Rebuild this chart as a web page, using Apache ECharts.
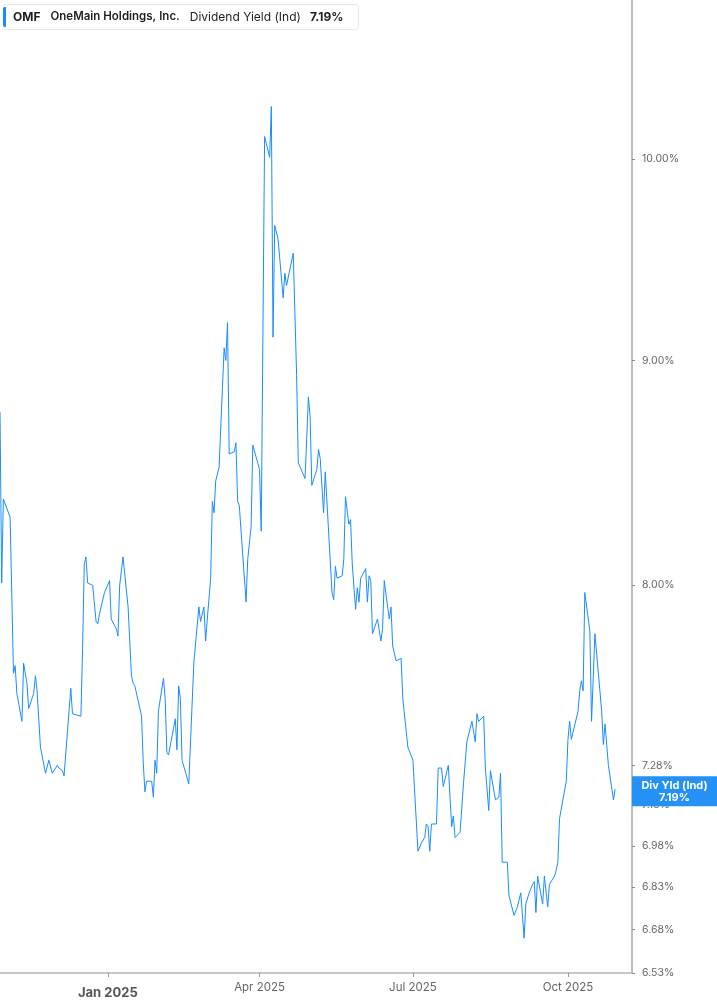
<!DOCTYPE html>
<html>
<head>
<meta charset="utf-8">
<script src="https://cdn.jsdelivr.net/npm/echarts@6/dist/echarts.min.js"></script>
<style>
  html, body { margin: 0; padding: 0; background: #fff; }
  #chart { width: 717px; height: 1005px; }
</style>
</head>
<body>
<div id="chart"></div>
<script>
// dividend yield (%)
const dates = [
  '2024-10-29', '2024-10-30', '2024-10-31', '2024-11-04', '2024-11-06', '2024-11-07', '2024-11-08',
  '2024-11-11', '2024-11-12', '2024-11-14', '2024-11-15', '2024-11-18', '2024-11-19', '2024-11-20',
  '2024-11-22', '2024-11-25', '2024-11-27', '2024-11-29', '2024-12-02', '2024-12-03', '2024-12-05',
  '2024-12-06', '2024-12-10', '2024-12-11', '2024-12-16', '2024-12-17', '2024-12-18', '2024-12-19',
  '2024-12-20', '2024-12-23', '2024-12-25', '2024-12-26', '2024-12-27', '2024-12-30', '2025-01-02',
  '2025-01-03', '2025-01-06', '2025-01-07', '2025-01-08', '2025-01-10', '2025-01-13', '2025-01-15',
  '2025-01-16', '2025-01-17', '2025-01-21', '2025-01-22', '2025-01-23', '2025-01-24', '2025-01-27',
  '2025-01-28', '2025-01-29', '2025-01-30', '2025-01-31', '2025-02-03', '2025-02-04', '2025-02-05',
  '2025-02-06', '2025-02-10', '2025-02-11', '2025-02-12', '2025-02-13', '2025-02-14', '2025-02-18',
  '2025-02-21', '2025-02-24', '2025-02-25', '2025-02-27', '2025-02-28', '2025-03-01', '2025-03-03',
  '2025-03-04', '2025-03-05', '2025-03-06', '2025-03-08', '2025-03-11', '2025-03-12', '2025-03-13',
  '2025-03-14', '2025-03-17', '2025-03-18', '2025-03-19', '2025-03-20', '2025-03-24', '2025-03-25',
  '2025-03-27', '2025-03-28', '2025-04-01', '2025-04-02', '2025-04-04', '2025-04-07', '2025-04-08',
  '2025-04-09', '2025-04-10', '2025-04-12', '2025-04-15', '2025-04-16', '2025-04-17', '2025-04-21',
  '2025-04-23', '2025-04-24', '2025-04-28', '2025-04-30', '2025-05-01', '2025-05-02', '2025-05-05',
  '2025-05-06', '2025-05-07', '2025-05-09', '2025-05-10', '2025-05-14', '2025-05-15', '2025-05-16',
  '2025-05-17', '2025-05-20', '2025-05-21', '2025-05-22', '2025-05-24', '2025-05-25', '2025-05-26',
  '2025-05-28', '2025-05-29', '2025-05-30', '2025-05-31', '2025-06-03', '2025-06-04', '2025-06-05',
  '2025-06-06', '2025-06-07', '2025-06-10', '2025-06-12', '2025-06-13', '2025-06-14', '2025-06-16',
  '2025-06-17', '2025-06-18', '2025-06-19', '2025-06-21', '2025-06-24', '2025-06-25', '2025-06-28',
  '2025-07-01', '2025-07-04', '2025-07-06', '2025-07-08', '2025-07-09', '2025-07-10', '2025-07-11',
  '2025-07-12', '2025-07-15', '2025-07-16', '2025-07-18', '2025-07-19', '2025-07-22', '2025-07-24',
  '2025-07-25', '2025-07-26', '2025-07-29', '2025-07-31', '2025-08-02', '2025-08-05', '2025-08-07',
  '2025-08-08', '2025-08-09', '2025-08-12', '2025-08-13', '2025-08-15', '2025-08-16', '2025-08-19',
  '2025-08-20', '2025-08-21', '2025-08-22', '2025-08-23', '2025-08-26', '2025-08-27', '2025-08-30',
  '2025-09-01', '2025-09-03', '2025-09-05', '2025-09-06', '2025-09-08', '2025-09-10', '2025-09-11',
  '2025-09-12', '2025-09-13', '2025-09-16', '2025-09-17', '2025-09-19', '2025-09-20', '2025-09-23',
  '2025-09-24', '2025-09-25', '2025-09-26', '2025-09-30', '2025-10-01', '2025-10-02', '2025-10-03',
  '2025-10-07', '2025-10-08', '2025-10-09', '2025-10-10', '2025-10-11', '2025-10-14', '2025-10-15',
  '2025-10-17', '2025-10-21', '2025-10-22', '2025-10-23', '2025-10-25', '2025-10-28', '2025-10-29'
];
const yields = [
  8.76, 8.01, 8.37, 8.29, 7.64, 7.67, 7.56,
  7.45, 7.68, 7.60, 7.50, 7.56, 7.63, 7.57,
  7.35, 7.25, 7.30, 7.25, 7.28, 7.27, 7.26,
  7.24, 7.58, 7.48, 7.47, 7.74, 8.09, 8.12,
  8.01, 8.00, 7.85, 7.84, 7.88, 7.97, 8.02,
  7.86, 7.82, 7.79, 8.00, 8.12, 7.91, 7.63,
  7.60, 7.59, 7.47, 7.29, 7.18, 7.22, 7.22,
  7.16, 7.30, 7.25, 7.49, 7.62, 7.54, 7.33,
  7.32, 7.46, 7.34, 7.59, 7.54, 7.30, 7.21,
  7.68, 7.91, 7.85, 7.91, 7.77, 7.86, 8.03,
  8.36, 8.31, 8.45, 8.51, 9.06, 9.00, 9.18,
  8.57, 8.58, 8.62, 8.36, 8.34, 7.93, 8.11,
  8.25, 8.61, 8.50, 8.23, 10.12, 10.01, 10.28,
  9.11, 9.66, 9.59, 9.30, 9.42, 9.36, 9.52,
  8.93, 8.53, 8.46, 8.83, 8.74, 8.43, 8.50,
  8.59, 8.55, 8.31, 8.49, 7.97, 7.94, 8.08,
  8.03, 8.04, 8.11, 8.38, 8.26, 8.28, 8.09,
  7.90, 7.99, 7.93, 8.03, 8.07, 7.93, 8.04,
  8.02, 7.80, 7.86, 7.77, 7.82, 8.02, 7.91,
  7.86, 7.91, 7.75, 7.69, 7.70, 7.54, 7.35,
  7.30, 6.96, 6.99, 7.01, 7.06, 7.05, 6.96,
  7.06, 7.06, 7.27, 7.27, 7.20, 7.28, 7.05,
  7.09, 7.01, 7.03, 7.21, 7.37, 7.45, 7.37,
  7.48, 7.45, 7.47, 7.27, 7.11, 7.26, 7.15,
  7.15, 7.16, 7.25, 6.92, 6.92, 6.80, 6.73,
  6.76, 6.81, 6.65, 6.77, 6.81, 6.84, 6.85,
  6.74, 6.87, 6.77, 6.87, 6.76, 6.84, 6.87,
  6.89, 6.92, 7.08, 7.22, 7.38, 7.45, 7.38,
  7.49, 7.57, 7.61, 7.57, 7.97, 7.81, 7.45,
  7.80, 7.49, 7.36, 7.44, 7.28, 7.15, 7.19
];
const yTicks = [10, 9, 8, 7.28, 7.13, 6.98, 6.83, 6.68, 6.53];
const yMin = 6.53;
const yMax = 10.87;
const xTicks = ['2025-01-01', '2025-04-01', '2025-07-01', '2025-10-01'];
const xMin = '2024-10-29';
const xMax = '2025-11-08';
const months = ['Jan', 'Feb', 'Mar', 'Apr', 'May', 'Jun', 'Jul', 'Aug', 'Sep', 'Oct', 'Nov', 'Dec'];

const BLUE = '#1a8cff';
const lastYield = yields[yields.length - 1];

function toTs(s) {
  const p = s.split('-');
  return new Date(+p[0], +p[1] - 1, +p[2]).getTime();
}

// the value axis is logarithmic in the picture, so plot ln(yield)
const seriesData = dates.map((d, i) => [toTs(d), Math.log(yields[i])]);
const yTickLn = yTicks.map((v) => Math.log(v));
const xTickTs = xTicks.map(toTs);

const chart = echarts.init(document.getElementById('chart'), null, { renderer: 'canvas' });

const option = {
  animation: false,
  textStyle: { fontFamily: 'Inter' },
  title: {
    left: 3,
    top: 4,
    padding: [3, 15, 3, 0],
    borderColor: '#e6e6e6',
    borderWidth: 1,
    borderRadius: 3,
    text: '{bar|}{t|OMF}{n|OneMain Holdings, Inc.}{d|Dividend Yield (Ind)}{v|' + lastYield.toFixed(2) + '%}',
    textStyle: {
      rich: {
        bar: { width: 3, height: 20, backgroundColor: BLUE, borderRadius: [2, 0, 0, 2] },
        t: { fontFamily: 'Inter', fontSize: 12, fontWeight: 700, color: '#1f1f1f', padding: [0, 10, 0, 7] },
        n: { fontFamily: 'Inter', fontSize: 11.5, fontWeight: 600, color: '#1f1f1f', padding: [0, 10, 0, 0] },
        d: { fontFamily: 'Inter', fontSize: 12, fontWeight: 400, color: '#1f1f1f', padding: [0, 9, 0, 0] },
        v: { fontFamily: 'Inter', fontSize: 12, fontWeight: 700, color: '#1f1f1f' },
      },
    },
  },
  grid: {
    left: 0,
    right: 85,
    top: 0,
    bottom: 32,
  },
  xAxis: {
    type: 'value',
    min: toTs(xMin),
    max: toTs(xMax),
    axisLine: { lineStyle: { color: '#b5b5b5', width: 1.5 } },
    axisTick: { show: true, length: 4, lineStyle: { color: '#999' }, customValues: xTickTs },
    splitLine: { show: false },
    axisLabel: {
      customValues: xTickTs,
      margin: 9,
      formatter(value) {
        const dt = new Date(value);
        const str = months[dt.getMonth()] + ' ' + dt.getFullYear();
        return dt.getMonth() === 0 ? '{b|' + str + '}' : '{n|' + str + '}';
      },
      rich: {
        b: { fontFamily: 'Inter', fontSize: 13, fontWeight: 700, color: '#555', padding: [5, 0, 0, 0] },
        n: { fontFamily: 'Inter', fontSize: 11.5, color: '#666' },
      },
    },
  },
  yAxis: {
    type: 'value',
    position: 'right',
    min: Math.log(yMin),
    max: Math.log(yMax),
    axisLine: { show: true, lineStyle: { color: '#a8a8a8', width: 1.5 } },
    axisTick: { show: true, length: 3, lineStyle: { color: '#888' }, customValues: yTickLn },
    splitLine: { show: false },
    axisLabel: {
      customValues: yTickLn,
      margin: 10,
      fontFamily: 'Inter',
      fontSize: 10.5,
      color: '#666',
      formatter(value) {
        return Math.exp(value).toFixed(2) + '%';
      },
    },
  },
  series: [
    {
      type: 'line',
      data: seriesData,
      showSymbol: false,
      lineStyle: { color: BLUE, width: 1 },
      itemStyle: { color: BLUE },
      markLine: {
        silent: true,
        symbol: 'none',
        lineStyle: { color: 'rgba(0,0,0,0)', width: 1, type: 'solid' },
        data: [{ yAxis: Math.log(lastYield) }],
        label: {
          show: true,
          position: 'end',
          distance: 0,
          offset: [0, -3],
          backgroundColor: '#2591f5',
          padding: [3, 4, 3, 4],
          formatter: '{a|Div Yld (Ind)}\n{a|' + lastYield.toFixed(2) + '%}',
          rich: {
            a: { width: 77, align: 'center', fontFamily: 'Inter', fontSize: 11, fontWeight: 700, color: '#fff', lineHeight: 12 },
          },
        },
      },
    },
  ],
};

chart.setOption(option);
</script>
</body>
</html>
